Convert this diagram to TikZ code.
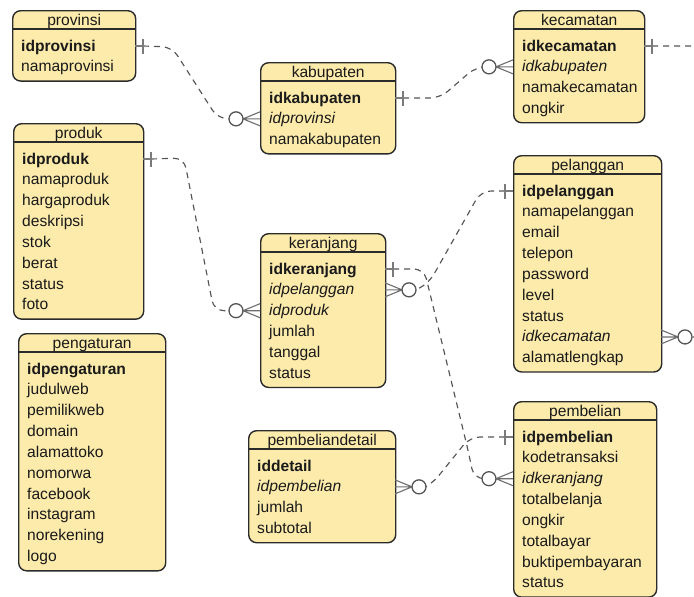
\documentclass[tikz,border=0pt]{standalone}
\usepackage{fontspec}
\setmainfont{Liberation Sans}
\definecolor{entfill}{HTML}{FCEBAB}
\definecolor{entdraw}{HTML}{2B2B2B}
\definecolor{conn}{HTML}{555555}
\definecolor{barc}{HTML}{7A7A7A}
\definecolor{txt}{HTML}{1A1A1A}
\tikzset{
  entbox/.style={draw=entdraw, fill=entfill, line width=1.4pt, rounded corners=8pt, inner sep=0pt},
  rowtext/.style={font=\fontsize{15.6}{18}\selectfont, inner sep=0pt, anchor=base west, text=txt},
  titletext/.style={font=\fontsize{15.6}{18}\selectfont, inner sep=0pt, anchor=base, text=txt},
  connline/.style={draw=conn, line width=1.15pt, dash pattern=on 6pt off 5pt, rounded corners=10pt},
  onebar/.pic={\draw[barc, line width=1.1pt] (0,0) -- (8,0);
               \draw[barc, line width=2pt] (8,-7.5) -- (8,7.5);},
  zeromany/.pic={\draw[conn!85, line width=1.1pt] (0,-7) -- (17,0) -- (0,7) (0,0) -- (17,0);
                 \draw[conn, line width=1.3pt, fill=white] (24,0) circle (7pt);}
}
\newcommand{\erentity}[7]{%
  \pgfmathsetmacro{\erh}{36+20.85*(#5-1)+13.5}%
  \node[entbox, anchor=north west, minimum width=#4pt, minimum height=\erh pt] (#1) at (#2,#3) {};
  \draw[entdraw, line width=1.3pt] ([yshift=-19pt]#1.north west) -- ([yshift=-19pt]#1.north east);
  \node[titletext] (#1-title) at ([yshift=-15pt]#1.north) {#6};
  \foreach \t [count=\i] in {#7} {
    \pgfmathsetmacro{\ery}{#3+36+20.85*(\i-1)}
    \coordinate (#1-L\i) at (#2,\ery);
    \coordinate (#1-R\i) at (#2+#4,\ery);
    \node[rowtext] (#1-\i) at (#2+9,\ery+5) {\t};
  }
}
\begin{document}
\begin{tikzpicture}[x=1pt,y=-1pt]
\useasboundingbox (0,0) rectangle (694,597);
\clip (0,0) rectangle (694,597);
\fill[white] (0,0) rectangle (694,597);

\erentity{prov}{12}{10}{123}{2}{provinsi}{\textbf{idprovinsi},namaprovinsi}
\erentity{kab}{260}{62}{135}{3}{kabupaten}{\textbf{idkabupaten},\textit{idprovinsi},namakabupaten}
\erentity{kec}{513}{10}{131}{4}{kecamatan}{\textbf{idkecamatan},\textit{idkabupaten},namakecamatan,ongkir}
\erentity{prod}{13}{123}{130}{8}{produk}{\textbf{idproduk},namaproduk,hargaproduk,deskripsi,stok,berat,status,foto}
\erentity{ker}{260}{233}{125}{6}{keranjang}{\textbf{idkeranjang},\textit{idpelanggan},\textit{idproduk},jumlah,tanggal,status}
\erentity{pel}{513}{155}{148}{9}{pelanggan}{\textbf{idpelanggan},namapelanggan,email,telepon,password,level,status,\textit{idkecamatan},alamatlengkap}
\erentity{peng}{18}{333}{147}{10}{pengaturan}{\textbf{idpengaturan},judulweb,pemilikweb,domain,alamattoko,nomorwa,facebook,instagram,norekening,logo}
\erentity{pdet}{248}{430}{147}{4}{pembeliandetail}{\textbf{iddetail},\textit{idpembelian},jumlah,subtotal}
\erentity{pemb}{513}{401}{143}{8}{pembelian}{\textbf{idpembelian},kodetransaksi,\textit{idkeranjang},totalbelanja,ongkir,totalbayar,buktipembayaran,status}

% provinsi -> kabupaten
\draw[connline] ([xshift=8pt]prov-R1) -- (172,47) -- (218,118.85) -- ([xshift=-31pt]kab-L2);
\pic at (prov-R1) {onebar};
\pic[xscale=-1] at (kab-L2) {zeromany};

% kabupaten -> kecamatan
\draw[connline] ([xshift=8pt]kab-R1) -- (440,98) -- (476,66.85) -- ([xshift=-31pt]kec-L2);
\pic at (kab-R1) {onebar};
\pic[xscale=-1] at (kec-L2) {zeromany};

% kecamatan -> pelanggan (off to the right)
\draw[connline] ([xshift=8pt]kec-R1) -- (716,46) -- (716,337) -- ([xshift=31pt]pel-R8);
\pic at (kec-R1) {onebar};
\pic at (pel-R8) {zeromany};

% produk -> keranjang
\draw[connline] ([xshift=8pt]prod-R1) -- (184,158) -- (214,310.7) -- ([xshift=-31pt]ker-L3);
\pic at (prod-R1) {onebar};
\pic[xscale=-1] at (ker-L3) {zeromany};

% pelanggan -> keranjang
\draw[connline] ([xshift=-8pt]pel-L1) -- (481,191) -- (429,283) -- ([xshift=31pt]ker-R2);
\pic[xscale=-1] at (pel-L1) {onebar};
\pic at (ker-R2) {zeromany};

% keranjang -> pembelian
\draw[connline] ([xshift=8pt]ker-R1) -- (424,269) -- (468,450) -- (474,478.7) -- ([xshift=-31pt]pemb-L3);
\pic at (ker-R1) {onebar};
\pic[xscale=-1] at (pemb-L3) {zeromany};

% pembelian -> pembeliandetail
\draw[connline] ([xshift=-8pt]pemb-L1) -- (470,437) -- (432,484) -- ([xshift=31pt]pdet-R2);
\pic[xscale=-1] at (pemb-L1) {onebar};
\pic at (pdet-R2) {zeromany};
\end{tikzpicture}
\end{document}
